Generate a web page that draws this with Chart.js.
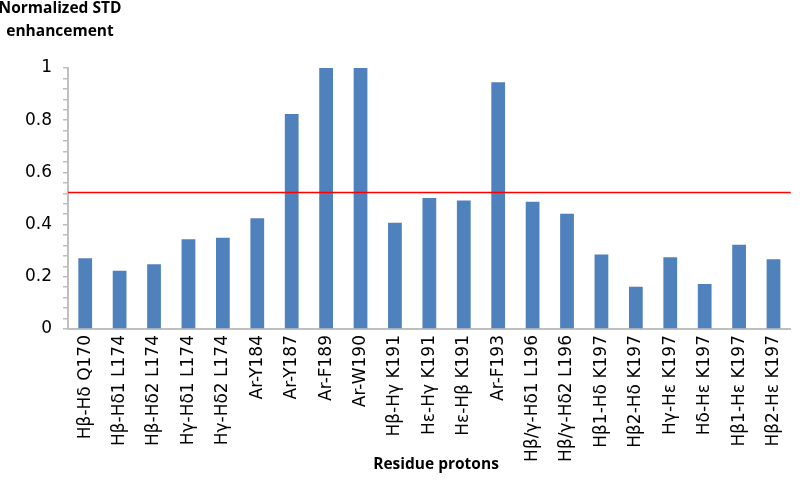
<!DOCTYPE html>
<html>
<head>
<meta charset="utf-8">
<script src="https://cdn.jsdelivr.net/npm/chart.js@4"></script>
<style>
  html, body { margin: 0; padding: 0; background: #fff; }
  #wrap { position: relative; width: 800px; height: 504px; }
</style>
</head>
<body>
<div id="wrap"><canvas id="c" width="800" height="504"></canvas></div>
<script>
const categories = [
  "Hβ-Hδ Q170", "Hβ-Hδ1 L174", "Hβ-Hδ2 L174", "Hγ-Hδ1 L174", "Hγ-Hδ2 L174",
  "Ar-Y184", "Ar-Y187", "Ar-F189", "Ar-W190", "Hβ-Hγ K191", "Hε-Hγ K191",
  "Hε-Hβ K191", "Ar-F193", "Hβ/γ-Hδ1 L196", "Hβ/γ-Hδ2 L196", "Hβ1-Hδ K197",
  "Hβ2-Hδ K197", "Hγ-Hε K197", "Hδ-Hε K197", "Hβ1-Hε K197", "Hβ2-Hε K197"
];
const stdValues = [
  0.271, 0.223, 0.248, 0.344, 0.350,
  0.424, 0.824, 1.0, 1.0, 0.407, 0.502,
  0.492, 0.945, 0.488, 0.442, 0.285,
  0.162, 0.275, 0.172, 0.323, 0.267
];
const thresholdValue = 0.523;
const yTickLabels = [0, 0.2, 0.4, 0.6, 0.8, 1];
const yAxisTitle = ["Normalized STD", "enhancement"];
const xAxisTitle = "Residue protons";

const FONT = '"DejaVu Sans", Verdana, sans-serif';

const thresholdPlugin = {
  id: 'threshold',
  afterDatasetsDraw(chart) {
    const { ctx, chartArea, scales } = chart;
    const y = scales.y.getPixelForValue(thresholdValue);
    ctx.save();
    ctx.strokeStyle = '#FF0000';
    ctx.lineWidth = 1.5;
    ctx.beginPath();
    ctx.moveTo(chartArea.left, y);
    ctx.lineTo(chartArea.right, y);
    ctx.stroke();
    ctx.restore();
  }
};

const titlesPlugin = {
  id: 'titles',
  afterDraw(chart) {
    const { ctx } = chart;
    ctx.save();
    ctx.fillStyle = '#000';
    ctx.font = 'bold 15.5px "Open Sans"';
    ctx.textAlign = 'center';
    ctx.textBaseline = 'middle';
    ctx.fillText(yAxisTitle[0], 60, 9);
    ctx.fillText(yAxisTitle[1], 60, 32);
    ctx.font = 'bold 15.5px "Open Sans"';
    ctx.fillText(xAxisTitle, 436, 465);
    ctx.restore();
  }
};

new Chart(document.getElementById('c'), {
  type: 'bar',
  data: {
    labels: categories,
    datasets: [{
      data: stdValues,
      backgroundColor: '#4F81BD',
      borderWidth: 0,
      categoryPercentage: 1.0,
      barPercentage: 0.4
    }]
  },
  options: {
    responsive: false,
    animation: false,
    devicePixelRatio: 1,
    layout: { padding: { top: 68, right: 4, left: 0, bottom: 0 } },
    plugins: { legend: { display: false }, tooltip: { enabled: false } },
    scales: {
      x: {
        grid: { display: false, drawTicks: false },
        border: { display: true, color: '#BFBFBF', width: 2 },
        ticks: {
          color: '#000',
          font: { family: FONT, size: 17 },
          maxRotation: 90, minRotation: 90,
          autoSkip: false,
          padding: 6
        },
        afterFit(scale) { scale.height = 175; }
      },
      y: {
        min: 0, max: 1,
        grid: { drawOnChartArea: false, drawTicks: true, tickLength: 5, color: '#BFBFBF', lineWidth: 1.5 },
        border: { display: true, color: '#BFBFBF', width: 2 },
        ticks: {
          stepSize: 0.04,
          autoSkip: false,
          color: '#000',
          font: { family: FONT, size: 17 },
          padding: 11,
          callback(v) {
            const r = Math.round(v * 100) / 100;
            return yTickLabels.some(t => Math.abs(t - r) < 1e-6) ? String(r) : '';
          }
        },
        afterFit(scale) { scale.width = 68; }
      }
    }
  },
  plugins: [thresholdPlugin, titlesPlugin]
});
</script>
</body>
</html>
